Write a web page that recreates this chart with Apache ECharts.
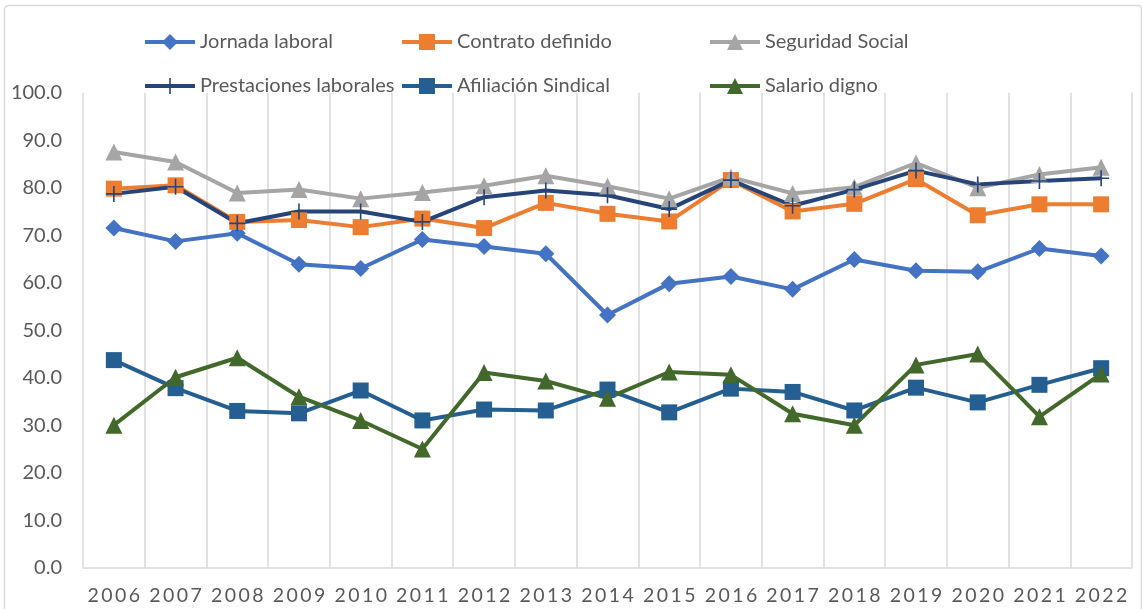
<!DOCTYPE html>
<html>
<head>
<meta charset="utf-8">
<title>Indicadores laborales 2006-2022</title>
<script src="https://cdn.jsdelivr.net/npm/echarts@6/dist/echarts.min.js"></script>
<style>
    html, body { margin: 0; padding: 0; background: #fff; }
    #app { width: 1142px; height: 609px; }
</style>
</head>
<body>
<div id="app"></div>
<script>
// 年份
const years = ['2006', '2007', '2008', '2009', '2010', '2011', '2012', '2013', '2014',
    '2015', '2016', '2017', '2018', '2019', '2020', '2021', '2022'];

// 各系列数据
const jornadaLaboral = [71.5, 68.7, 70.4, 63.9, 63.0, 69.1, 67.6, 66.1, 53.2, 59.8, 61.3, 58.6, 64.9, 62.5, 62.3, 67.2, 65.6];
const contratoDefinido = [79.8, 80.5, 72.8, 73.2, 71.7, 73.5, 71.5, 76.8, 74.5, 72.9, 81.6, 75.0, 76.6, 81.8, 74.2, 76.5, 76.5];
const seguridadSocial = [87.5, 85.4, 78.9, 79.6, 77.7, 79.0, 80.4, 82.5, 80.3, 77.7, 82.2, 78.8, 80.1, 85.2, 80.0, 82.8, 84.3];
const prestacionesLaborales = [78.7, 80.2, 72.5, 75.0, 75.0, 72.8, 78.0, 79.4, 78.4, 75.5, 81.6, 76.2, 79.6, 83.6, 80.7, 81.4, 82.0];
const afiliacionSindical = [43.7, 37.8, 33.0, 32.5, 37.3, 31.0, 33.3, 33.1, 37.5, 32.7, 37.7, 37.0, 33.1, 37.9, 34.8, 38.5, 42.0];
const salarioDigno = [30.0, 40.1, 44.2, 36.0, 31.0, 25.0, 41.1, 39.3, 35.7, 41.2, 40.6, 32.4, 30.0, 42.7, 45.0, 31.8, 40.8];

// Y轴刻度
const yMin = 0;
const yMax = 100;
const yStep = 10;

const fontName = 'Lato, "Open Sans", sans-serif';
const textColor = '#595959';
const gridColor = '#d9d9d9';

// 十字标记
const plusPath = 'path://M9,0 L11,0 L11,9 L20,9 L20,11 L11,11 L11,20 L9,20 L9,11 L0,11 L0,9 L9,9 Z';

// 生成折线系列
function makeSeries(name, data, color, symbol, size) {
    return {
        name: name,
        type: 'line',
        data: data,
        symbol: symbol,
        symbolSize: size,
        showAllSymbol: true,
        lineStyle: { color: color, width: 4 },
        itemStyle: { color: color },
        emphasis: { disabled: true },
        z: 3
    };
}

// 图例（三列）
function makeLegend(left, names) {
    return {
        orient: 'vertical',
        left: left,
        top: 30,
        padding: 0,
        itemWidth: 50,
        itemHeight: 20,
        itemGap: 20,
        data: names,
        lineStyle: { width: 4 },
        textStyle: {
            fontFamily: fontName,
            fontSize: 20,
            color: textColor,
            lineHeight: 24
        }
    };
}

const myChart = echarts.init(document.getElementById('app'), null, { renderer: 'canvas' });

myChart.setOption({
    backgroundColor: '#fff',
    animation: false,
    graphic: [{
        type: 'rect',
        left: 2,
        top: 3,
        shape: { width: 1137, height: 620, r: 4 },
        style: { fill: 'none', stroke: gridColor, lineWidth: 1.5 },
        silent: true
    }],
    legend: [
        makeLegend(143, ['Jornada laboral', 'Prestaciones laborales']),
        makeLegend(400, ['Contrato definido', 'Afiliación Sindical']),
        makeLegend(708, ['Seguridad Social', 'Salario digno'])
    ],
    grid: {
        left: 83,
        right: 10,
        top: 92.7,
        bottom: 41.3,
        containLabel: false
    },
    xAxis: {
        type: 'category',
        boundaryGap: true,
        data: years,
        axisLine: { lineStyle: { color: gridColor, width: 1.5 } },
        axisTick: { show: false, interval: 0 },
        splitLine: { show: true, interval: 0, lineStyle: { color: gridColor, width: 1.5 } },
        axisLabel: {
            interval: 0,
            fontFamily: fontName,
            fontSize: 19.5,
            color: textColor,
            margin: 18,
            formatter: function(v) {
                return v.split('').join('\u2009');
            }
        }
    },
    yAxis: {
        type: 'value',
        min: yMin,
        max: yMax,
        interval: yStep,
        axisLine: { show: false },
        axisTick: { show: false },
        splitLine: { show: false },
        axisLabel: {
            fontFamily: fontName,
            fontSize: 20,
            color: textColor,
            margin: 21,
            formatter: function(v) {
                return v.toFixed(1);
            }
        }
    },
    series: [
        makeSeries('Jornada laboral', jornadaLaboral, '#4472C4', 'diamond', 17),
        makeSeries('Contrato definido', contratoDefinido, '#ED7D31', 'rect', 16),
        makeSeries('Seguridad Social', seguridadSocial, '#A5A5A5', 'triangle', 17),
        makeSeries('Prestaciones laborales', prestacionesLaborales, '#264478', plusPath, 16),
        makeSeries('Afiliación Sindical', afiliacionSindical, '#255E91', 'rect', 16),
        makeSeries('Salario digno', salarioDigno, '#43682B', 'triangle', 17)
    ]
});
</script>
</body>
</html>
